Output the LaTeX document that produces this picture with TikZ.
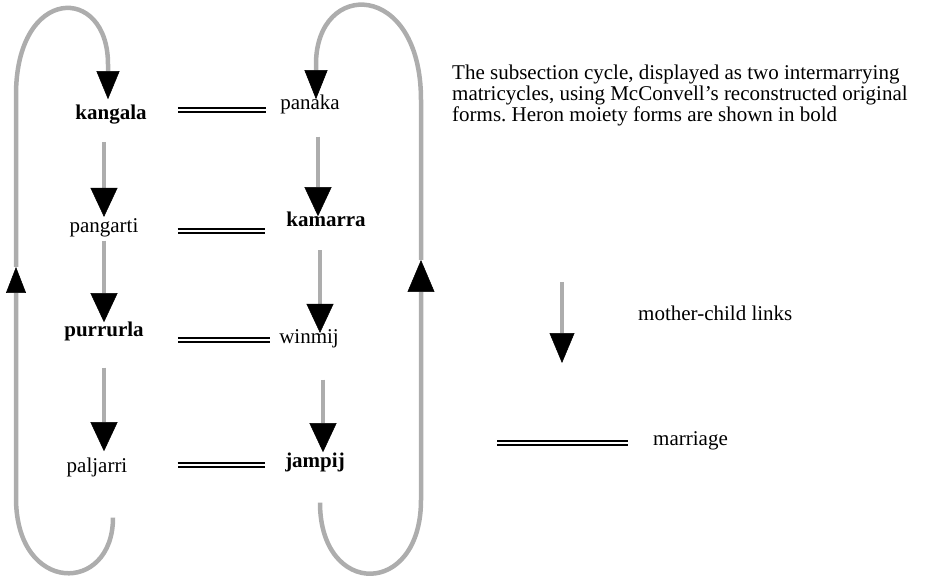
\documentclass[tikz,border=0pt]{standalone}
\usepackage{fontspec}
\setmainfont{Liberation Serif}
\usetikzlibrary{arrows.meta}
\newcommand{\figfont}{\fontsize{21}{20.7}\selectfont}
\frenchspacing

\begin{document}
\begin{tikzpicture}[
  x=1pt, y=-1pt, font=\figfont,
  lab/.style={inner sep=0pt, anchor=base},
  heron/.style={lab, font=\figfont\bfseries},
  mc/.style={draw=black!32, line width=4pt, -{Triangle[length=29pt, width=27pt, line width=0.5pt, color=black]}},
  marr/.style={draw=black, line width=1.7pt, double=white, double distance=2.3pt},
  cyc/.style={draw=black!32, line width=4.5pt}]
\useasboundingbox (0,0) rectangle (927,580);
% --- left matricycle
\node[heron] (kangala) at (111,120) {kangala};
\node[lab] (pangarti) at (104,233) {pangarti};
\node[heron] (purrurla) at (104,337) {purrurla};
\node[lab] (paljarri) at (97,472) {paljarri};
% --- right matricycle
\node[lab] (panaka) at (310,110) {panaka};
\node[heron] (kamarra) at (326,227) {kamarra};
\node[lab] (winmij) at (309,343) {winmij};
\node[heron] (jampij) at (315,467) {jampij};
% --- caption and legend
\node[anchor=north west, inner sep=0pt, align=left] (caption) at (452,65) {The subsection cycle, displayed as two intermarrying\\matricycles, using McConvell’s reconstructed original\\forms. Heron moiety forms are shown in bold};
\node[lab, anchor=base west] (mclab) at (638,320) {mother-child links};
\node[lab, anchor=base west] (marrlab) at (653,445) {marriage};
\coordinate (lgtop) at (562,282);
\coordinate (lgtip) at (562,363);
\coordinate (lgm) at (497,443);
% mother-child links
\draw[mc, shorten <=17pt, shorten >=2pt] (kangala.south -| pangarti) -- (pangarti.north);
\draw[mc, shorten <=3pt] (pangarti.south) -- (purrurla.north);
\draw[mc, shorten <=26pt, shorten >=6pt] (purrurla.south) -- (purrurla.south |- paljarri.north);
\draw[mc, shorten <=22pt, shorten >=-4pt] ([xshift=8pt]panaka.south) -- ([xshift=8pt]panaka.south |- kamarra.north);
\draw[mc, shorten <=23pt, shorten >=-4pt] ([xshift=-6pt]kamarra.south) -- ([xshift=-6pt]kamarra.south |- winmij.north);
\draw[mc, shorten <=32pt] ([xshift=14pt]winmij.south) -- ([xshift=14pt]winmij.south |- jampij.north);
% marriages
\draw[marr, shorten <=31pt, shorten >=14pt] ([yshift=5pt]kangala.east) -- ([yshift=5pt]kangala.east -| panaka.west);
\draw[marr, shorten <=39pt, shorten >=21pt] ([yshift=-3pt]pangarti.east) -- ([yshift=-3pt]pangarti.east -| kamarra.west);
\draw[marr, shorten <=34pt, shorten >=9pt] ([yshift=-8pt]purrurla.east) -- ([yshift=-8pt]purrurla.east -| winmij.west);
\draw[marr, shorten <=50pt, shorten >=20pt] ([yshift=2pt]paljarri.east) -- ([yshift=2pt]paljarri.east -| jampij.west);
% --- cycles back to the top
\coordinate (lbot) at (16,498);
\coordinate (lup) at (16,267);
\coordinate (ltop) at (16,95);
\draw[cyc, -{Triangle[length=26pt, width=20pt, line width=0.5pt, color=black]}] ([xshift=16pt, yshift=-41pt]paljarri.south) .. controls +(0,77) and +(0,97) .. (lbot) -- (lup);
\draw[cyc, -{Triangle[length=28pt, width=23pt, line width=0.5pt, color=black]}] (lup) -- (ltop) .. controls +(0,-110) and +(0,-80) .. ([xshift=-3pt, yshift=41pt]kangala.north) -- ([xshift=-3pt, yshift=6pt]kangala.north);
\coordinate (rbot) at (421,500);
\coordinate (rup) at (421,260);
\coordinate (rtop) at (421,100);
\draw[cyc, -{Triangle[length=32pt, width=27pt, line width=0.5pt, color=black]}] ([xshift=5pt, yshift=-31pt]jampij.south) .. controls +(0,95) and +(0,98) .. (rbot) -- (rup);
\draw[cyc, -{Triangle[length=29pt, width=23pt, line width=0.5pt, color=black]}] (rup) -- (rtop) .. controls +(0,-120) and +(0,-85) .. ([xshift=6pt, yshift=31pt]panaka.north) -- ([xshift=6pt, yshift=-4pt]panaka.north);
% --- legend
\draw[mc, -{Triangle[length=30pt, width=25pt, line width=0.5pt, color=black]}] (lgtop) -- (lgtip);
\draw[marr, shorten >=25pt] (lgm) -- (lgm -| marrlab.west);
\end{tikzpicture}
\end{document}
